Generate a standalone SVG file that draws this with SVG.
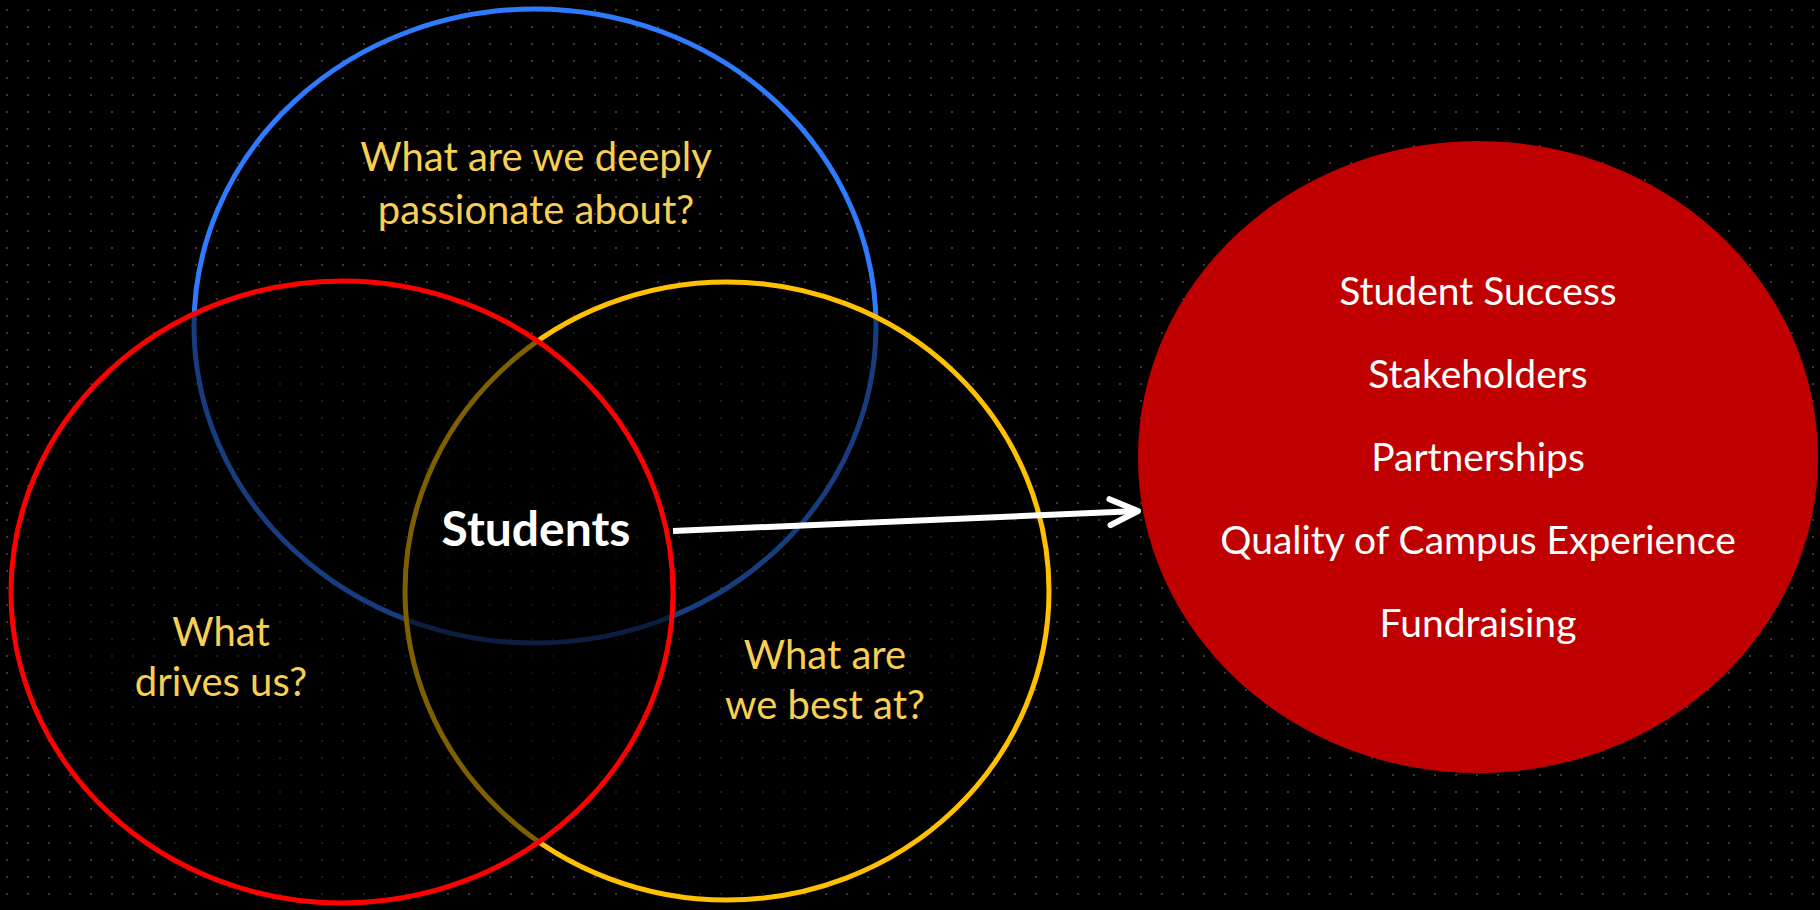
<svg xmlns="http://www.w3.org/2000/svg" width="1820" height="910" viewBox="0 0 1820 910">
  <defs>
    <pattern id="dots" x="6" y="9" width="21" height="17" patternUnits="userSpaceOnUse">
      <rect width="2" height="2" fill="#383838"/>
    </pattern>
    <marker id="chev" markerUnits="userSpaceOnUse" markerWidth="48" markerHeight="48" viewBox="-40 -24 48 48" refX="0" refY="0" orient="auto">
      <path d="M-28,-13 L0,0 L-28,13" fill="none" stroke="#ffffff" stroke-width="6" stroke-linecap="round" stroke-linejoin="round"/>
    </marker>
    <style>
      .q { font-family: Lato, "Open Sans", sans-serif; font-size: 40px; fill: #F7CF52; text-anchor: middle; }
      .w { font-family: Lato, "Open Sans", sans-serif; font-size: 39px; fill: #ffffff; text-anchor: middle; }
      .ring { fill: #000000; fill-opacity: 0.5; stroke-width: 5; }
    </style>
  </defs>
  <rect width="1820" height="910" fill="#000000"/>
  <rect width="1820" height="910" fill="url(#dots)"/>

  <g id="passion">
    <ellipse cx="535" cy="326" rx="341" ry="317" fill="none" stroke="#2F7BFF" stroke-width="5"/>
  </g>
  <g id="best">
    <ellipse class="ring" cx="727" cy="591" rx="322" ry="309" stroke="#FFC000"/>
  </g>
  <g id="drives">
    <ellipse class="ring" cx="342" cy="592" rx="331" ry="311" stroke="#FF0000"/>
  </g>

  <g id="labels">
    <text class="q" x="536" y="171">What are we deeply</text>
    <text class="q" x="536" y="224">passionate about?</text>
    <text class="q" x="221" y="646">What</text>
    <text class="q" x="221" y="696">drives us?</text>
    <text class="q" x="825" y="669">What are</text>
    <text class="q" x="825" y="719">we best at?</text>
  </g>
  <g id="students">
    <text x="536" y="546" font-family="Lato, 'Open Sans', sans-serif" font-size="48" font-weight="bold" fill="#ffffff" text-anchor="middle">Students</text>
  </g>

  <g id="outcomes">
    <ellipse cx="1478" cy="457" rx="340" ry="316" fill="#C00000"/>
    <text class="w" x="1478" y="305">Student Success</text>
    <text class="w" x="1478" y="388">Stakeholders</text>
    <text class="w" x="1478" y="471">Partnerships</text>
    <text class="w" x="1478" y="554">Quality of Campus Experience</text>
    <text class="w" x="1478" y="637">Fundraising</text>
  </g>

  <g id="connectors">
    <line x1="673" y1="531" x2="1138" y2="511" stroke="#ffffff" stroke-width="6" marker-end="url(#chev)"/>
  </g>
</svg>
